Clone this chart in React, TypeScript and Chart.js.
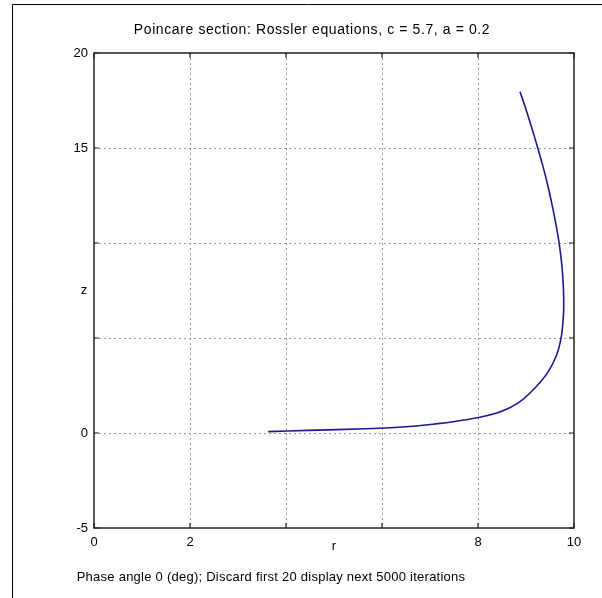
import React, { useEffect, useRef } from "react";
import { Chart, registerables } from "chart.js";

Chart.register(...registerables);

const titleText = "Poincare section: Rossler equations, c = 5.7, a = 0.2";
const footText = "Phase angle 0 (deg); Discard first 20 display next 5000 iterations";
const xAxisLabel = "r";
const yAxisLabel = "z";

const rValues = [3.63, 4.46, 5.65, 6.27, 6.72, 7.06, 7.48, 8.04, 8.39, 8.66, 8.875, 9.08, 9.3, 9.48, 9.63, 9.72, 9.765, 9.785, 9.78, 9.75, 9.69, 9.645, 9.565, 9.46, 9.355, 9.245, 9.155, 9.015, 8.875];
const zValues = [0.07, 0.14, 0.22, 0.29, 0.37, 0.46, 0.59, 0.83, 1.05, 1.33, 1.65, 2.1, 2.68, 3.3, 4.05, 4.85, 5.7, 6.5, 7.6, 8.75, 10.0, 10.68, 11.74, 12.96, 14.02, 15.0, 15.77, 16.91, 17.96];

const xTickValues = [0, 2, 4, 6, 8, 10];
const xTickLabels = ["0", "2", "", "", "8", "10"];
const yTickValues = [-5, 0, 5, 10, 15, 20];
const yTickLabels = ["-5", "0", "", "", "15", "20"];

const FONT = "Liberation Sans, Arial, sans-serif";

export default function App() {
  const ref = useRef<HTMLCanvasElement>(null);

  useEffect(() => {
    if (!ref.current) return;
    const points = rValues.map((r, i) => ({ x: r, y: zValues[i] }));

    const decor = {
      id: "decor",
      afterDraw(chart: any) {
        const ctx = chart.ctx;
        const xs = chart.scales.x;
        const ys = chart.scales.y;
        const a = chart.chartArea;
        ctx.save();
        // axes box
        ctx.strokeStyle = "#222";
        ctx.lineWidth = 1.5;
        ctx.strokeRect(a.left, a.top, a.right - a.left, a.bottom - a.top);
        // inward ticks
        ctx.lineWidth = 1.2;
        const tl = 5;
        xTickValues.forEach((v) => {
          const px = xs.getPixelForValue(v);
          ctx.beginPath();
          ctx.moveTo(px, a.bottom);
          ctx.lineTo(px, a.bottom - tl);
          ctx.moveTo(px, a.top);
          ctx.lineTo(px, a.top + tl);
          ctx.stroke();
        });
        yTickValues.forEach((v) => {
          const py = ys.getPixelForValue(v);
          ctx.beginPath();
          ctx.moveTo(a.left, py);
          ctx.lineTo(a.left + tl, py);
          ctx.moveTo(a.right, py);
          ctx.lineTo(a.right - tl, py);
          ctx.stroke();
        });
        // texts
        ctx.fillStyle = "#000";
        ctx.textBaseline = "middle";
        ctx.textAlign = "center";
        ctx.font = "14px " + FONT;
        (ctx as any).letterSpacing = "0.6px";
        ctx.fillText(titleText, 312, 30);
        ctx.font = "13px " + FONT;
        (ctx as any).letterSpacing = "0.25px";
        ctx.fillText(footText, 271, 577);
        (ctx as any).letterSpacing = "0px";
        ctx.font = "13px " + FONT;
        ctx.fillText(xAxisLabel, (a.left + a.right) / 2, 546);
        ctx.fillText(yAxisLabel, 84, (a.top + a.bottom) / 2);
        // figure border
        ctx.strokeStyle = "#000";
        ctx.lineWidth = 1;
        ctx.beginPath();
        ctx.moveTo(602, 4.5);
        ctx.lineTo(12.5, 4.5);
        ctx.lineTo(12.5, 598);
        ctx.stroke();
        ctx.restore();
      },
    };

    const chart = new Chart(ref.current, {
      type: "scatter",
      data: {
        datasets: [
          {
            data: points,
            showLine: true,
            borderColor: "#1a1a8e",
            borderWidth: 1.6,
            pointRadius: 0,
            tension: 0.4,
            fill: false,
          },
        ],
      },
      options: {
        responsive: false,
        animation: false,
        layout: { padding: { top: 53, right: 28, left: 0, bottom: 0 } },
        plugins: {
          legend: { display: false },
          title: { display: false },
          tooltip: { enabled: false },
        },
        scales: {
          x: {
            type: "linear",
            min: 0,
            max: 10,
            afterBuildTicks: (s: any) => {
              s.ticks = xTickValues.map((v) => ({ value: v }));
            },
            afterFit: (s: any) => {
              s.height = 70;
            },
            ticks: {
              autoSkip: false,
              maxRotation: 0,
              color: "#000",
              padding: 7,
              font: { family: FONT, size: 13 },
              callback: (v: any) => {
                const i = xTickValues.indexOf(Number(v));
                return i >= 0 ? xTickLabels[i] : "";
              },
            },
            grid: {
              drawTicks: false,
              lineWidth: 1,
              color: (c: any) =>
                c.tick && (c.tick.value === 0 || c.tick.value === 10) ? "rgba(0,0,0,0)" : "#9a9a9a",
            },
            border: { display: false, dash: [2, 3] },
          },
          y: {
            type: "linear",
            min: -5,
            max: 20,
            afterBuildTicks: (s: any) => {
              s.ticks = yTickValues.map((v) => ({ value: v }));
            },
            afterFit: (s: any) => {
              s.width = 94;
            },
            ticks: {
              autoSkip: false,
              color: "#000",
              padding: 6,
              font: { family: FONT, size: 13 },
              callback: (v: any) => {
                const i = yTickValues.indexOf(Number(v));
                return i >= 0 ? yTickLabels[i] : "";
              },
            },
            grid: {
              drawTicks: false,
              lineWidth: 1,
              color: (c: any) =>
                c.tick && (c.tick.value === -5 || c.tick.value === 20) ? "rgba(0,0,0,0)" : "#9a9a9a",
            },
            border: { display: false, dash: [2, 3] },
          },
        },
      },
      plugins: [decor],
    });
    return () => chart.destroy();
  }, []);

  return (
    <div style={{ position: "fixed", left: 0, top: 0, width: 602, height: 598, background: "#fff" }}>
      <canvas ref={ref} width={602} height={598} style={{ width: 602, height: 598, display: "block" }} />
    </div>
  );
}
